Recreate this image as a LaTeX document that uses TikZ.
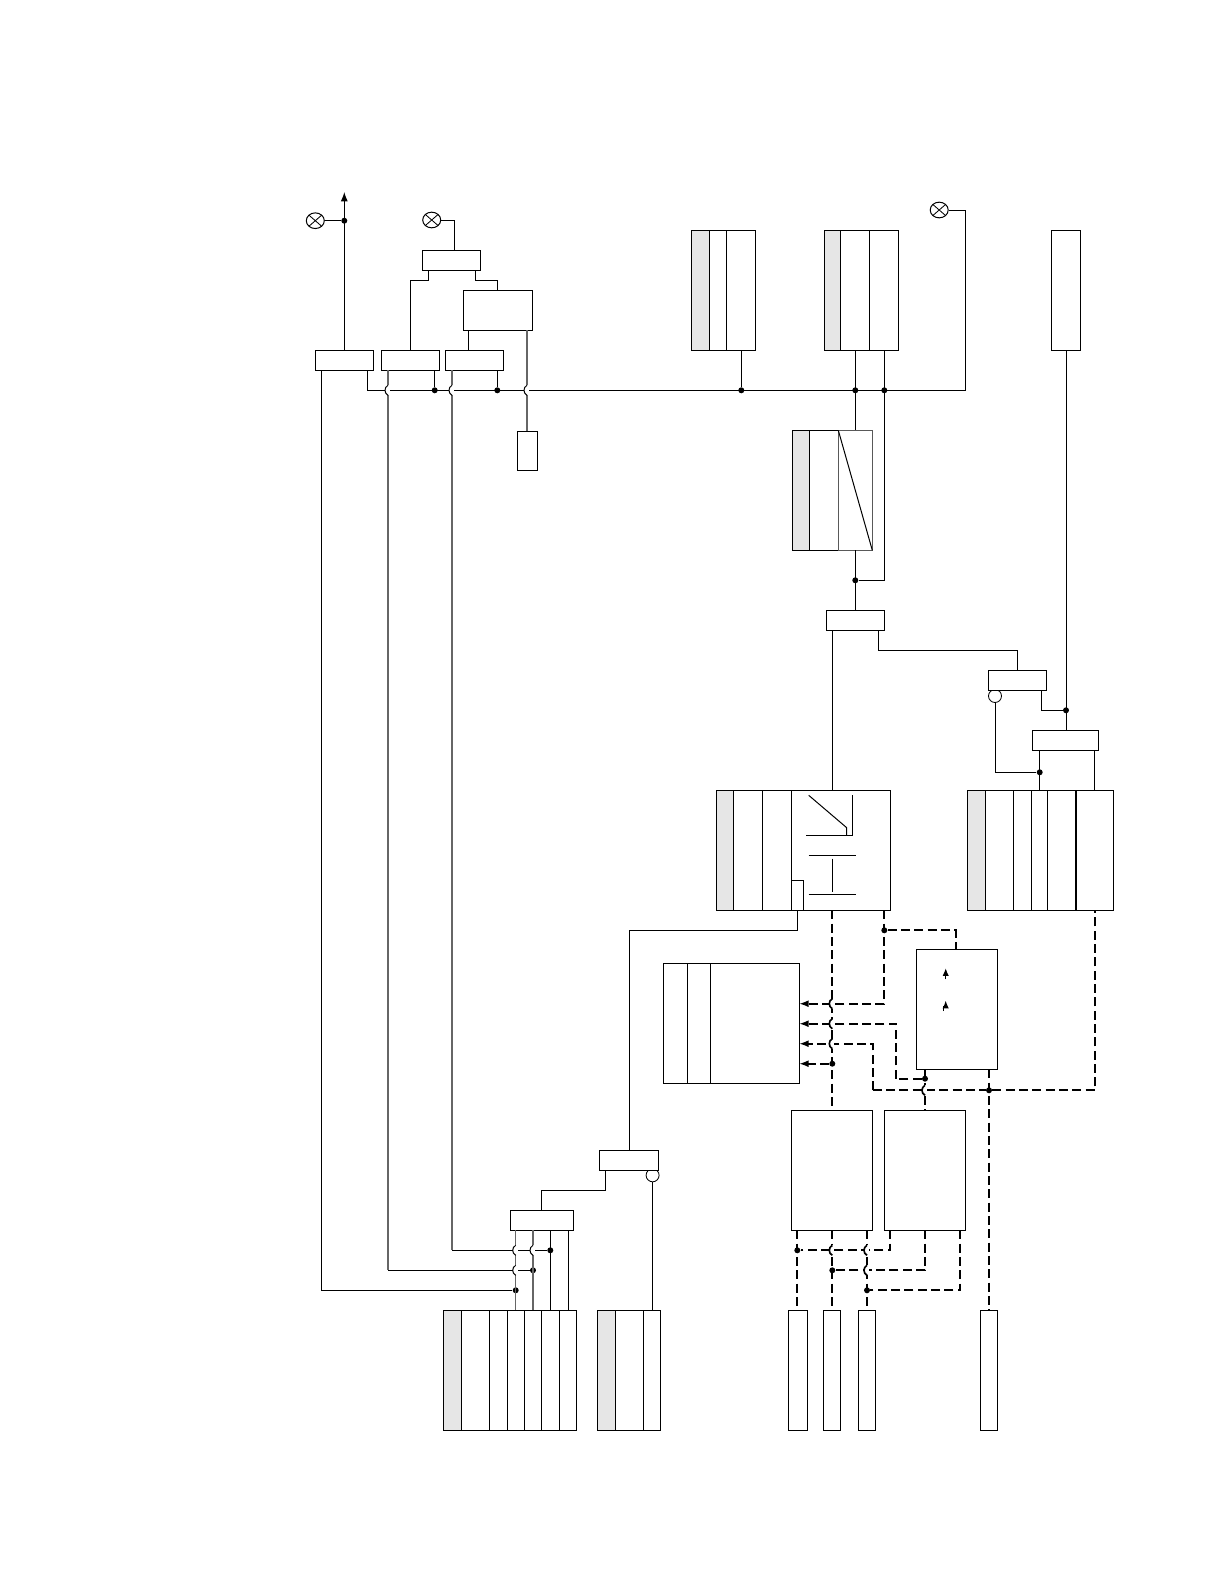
\documentclass[tikz,border=0pt]{standalone}
\usepackage{xcolor}
\usepackage{tikz}
\usetikzlibrary{arrows.meta,shapes.geometric}
\definecolor{stripgray}{HTML}{E6E6E6}
\tikzset{
  blk/.style={draw,rectangle,fill=white,inner sep=0pt,outer sep=0pt,line width=0.6pt},
  strip/.style={blk,fill=stripgray},
  pale/.style={blk,draw=black!65},
  wire/.style={line width=0.6pt},
  palewire/.style={line width=0.85pt,draw=black!60},
  dashwire/.style={line width=1pt,dash pattern=on 5.4pt off 2.6pt},
  tip/.style={-{Latex[length=5.6pt,width=4.2pt]}},
  smalltip/.style={-{Latex[length=4.6pt,width=3.8pt]}},
  dot/.style={circle,fill=black,inner sep=0pt,minimum size=3.6pt},
  ring/.style={circle,draw,fill=white,inner sep=0pt,minimum size=7.8pt,line width=0.5pt},
  lamp/.style={ellipse,draw,inner sep=0pt,minimum width=10.8pt,minimum height=9.4pt,line width=0.6pt,
    path picture={\draw[line width=0.5pt] (path picture bounding box.north west)--(path picture bounding box.south east)
      (path picture bounding box.north east)--(path picture bounding box.south west);}}
}
\newcommand{\blk}[6][]{\node[blk,#1,minimum width={(#5-#3)*0.6pt},minimum height={(#6-#4)*0.6pt}] (#2) at ({(#3+#5)/2},{(#4+#6)/2}) {};}
\newcommand{\hopv}[3][wire]{\fill[white] (#2-3,#3-5) rectangle (#2+2,#3+5);
  \draw[#1,solid] (#2,#3-5) .. controls (#2-4,#3-3) and (#2-4,#3+3) .. (#2,#3+5);}
\begin{document}
\begin{tikzpicture}[x=0.6pt,y=-0.6pt]
  \path[use as bounding box,fill=white] (0,0) rectangle (1224,1584);

  % top left
  \node[lamp] (lamp1) at (315.3,220.7) {};
  \node[lamp] (lamp2) at (431.7,220) {};
  \node[lamp] (lamp3) at (939.2,210) {};
  \blk{a}{315.3}{350.7}{373.3}{370.3}
  \blk{b}{381.7}{350.7}{439.7}{370.3}
  \blk{c}{445.3}{350.7}{503.3}{370.3}
  \blk{d}{422.3}{250.3}{480.3}{270.3}
  \blk{e}{463.3}{290.3}{532.3}{330.3}
  \blk{f}{517.3}{431.3}{537.3}{470.3}

  % top tables
  \blk[strip]{w0}{691.8}{230.3}{709}{350.4}
  \blk{w1}{709}{230.3}{726}{350.4}
  \blk{w2}{726}{230.3}{755.4}{350.4}
  \blk[strip]{x0}{824}{230.3}{840.3}{350.4}
  \blk{x1}{840.3}{230.3}{869.5}{350.4}
  \blk{x2}{869.5}{230.3}{898.5}{350.4}
  \blk{t}{1051.3}{230.3}{1080.6}{350.4}
  \blk[strip]{y0}{792.3}{430.3}{809.3}{550.3}
  \blk{y1}{809.3}{430.3}{838.3}{550.3}
  \blk[pale]{y2}{838.3}{430.3}{872.3}{550.3}
  \draw[wire] (y2.north west) -- (y2.south east);

  % middle
  \blk{m}{826}{610}{884.7}{630.2}
  \node[ring] (ringS) at (995,696) {};
  \blk{s}{988.3}{670.3}{1046.7}{690.3}
  \blk{u}{1032.3}{730.3}{1098.3}{750.3}
  \blk[strip]{l0}{716.3}{790.3}{733.3}{910.3}
  \blk{l1}{733.3}{790.3}{762.3}{910.3}
  \blk{l2}{762.3}{790.3}{791.3}{910.3}
  \blk{l3}{791.3}{790.3}{890.7}{910.3}
  \blk{lsmall}{791.3}{880.3}{803.3}{910.3}
  \blk[strip]{v0}{967.3}{790.3}{985.3}{910.3}
  \blk{v1}{985.3}{790.3}{1013.3}{910.3}
  \blk{v2}{1013.3}{790.3}{1031.3}{910.3}
  \blk{v3}{1031.3}{790.3}{1047.3}{910.3}
  \blk{v4}{1047.3}{790.3}{1076}{910.3}
  \blk[line width=0.9pt]{v5}{1076}{790.3}{1113.3}{910.3}
  \blk{p}{916.3}{949.7}{997.3}{1069.3}
  \blk{q1}{663.5}{963.3}{687.4}{1083.3}
  \blk{q2}{687.4}{963.3}{710.3}{1083.3}
  \blk{q3}{710.3}{963.3}{799.3}{1083.3}
  \blk{n}{791.3}{1110.3}{872.7}{1230.3}
  \blk{r}{884.3}{1110.3}{965.3}{1230.3}

  % bottom
  \node[ring] (ringG) at (652.6,1175.3) {};
  \blk{g}{599.3}{1150.3}{658.7}{1170.3}
  \blk{h}{510.3}{1210.3}{573.7}{1230.3}
  \blk[strip]{j0}{443.3}{1310}{461.3}{1430}
  \blk{j1}{461.3}{1310}{489.3}{1430}
  \blk{j2}{489.3}{1310}{507.3}{1430}
  \blk{j3}{507.3}{1310}{524.3}{1430}
  \blk{j4}{524.3}{1310}{541.3}{1430}
  \blk{j5}{541.3}{1310}{559.3}{1430}
  \blk{j6}{559.3}{1310}{576.3}{1430}
  \blk[strip]{k0}{597.3}{1310}{615.3}{1430}
  \blk{k1}{615.3}{1310}{643.3}{1430}
  \blk{k2}{643.3}{1310}{660.3}{1430}
  \blk{z1}{788.4}{1310}{807.2}{1430}
  \blk{z2}{823}{1310}{840}{1430}
  \blk{z3}{858.4}{1310}{875.6}{1430}
  \blk{z4}{980.6}{1310}{997.8}{1430}

  % junctions
  \node[dot] (dlamp) at (344.3,220.7) {};
  \node[dot] (db) at (434.7,390.3) {};
  \node[dot] (dc) at (497.3,390.3) {};
  \node[dot] (dw) at (741.3,390.3) {};
  \node[dot] (dx1) at (855.3,390.3) {};
  \node[dot] (dx2) at (884.3,390.3) {};
  \node[dot] (dy) at (855.3,580.3) {};
  \node[dot] (dt) at (1066,710.3) {};
  \node[dot] (du) at (1039.7,772.3) {};
  \node[dot] (dh1) at (550.3,1250.3) {};
  \node[dot] (dh2) at (533,1270.3) {};
  \node[dot] (dh3) at (515.7,1290.3) {};
  \node[dot] (dl) at (884.3,930.3) {};
  \node[dot] (dq) at (832.3,1063.7) {};
  \node[dot] (dp1) at (925,1078.7) {};
  \node[dot] (dp2) at (989,1090.3) {};
  \node[dot] (dn1) at (797.3,1250.3) {};
  \node[dot] (dn2) at (832.3,1270.3) {};
  \node[dot] (dn3) at (867,1290.3) {};
  \coordinate (top) at (344.3,192);
  \coordinate (busend) at (965.3,390.3);

  % solid wires
  \draw[wire,tip] (a.north -| top) -- (top);
  \draw[wire] (lamp1.east) -- (dlamp);
  \draw[wire] (lamp2.east) -| (454.3,0 |- d.north);
  \draw[wire] (428.3,0 |- d.south) |- (410.3,280) -- (410.3,0 |- b.north);
  \draw[wire] (475.3,0 |- d.south) |- (497.3,280) -- (497.3,0 |- e.north);
  \draw[wire] (468.3,0 |- e.south) -- (468.3,0 |- c.north);
  \draw[wire] (321.3,0 |- a.south) |- (dh3);
  \draw[palewire] (388,0 |- b.south) -- (388,1270.3);
  \draw[wire] (388,1270.3) -- (dh2);
  \draw[palewire] (452,0 |- c.south) -- (452,1250.3);
  \draw[wire] (452,1250.3) -- (dh1);
  \draw[palewire] (527,0 |- e.south) -- (527,0 |- f.north);
  \draw[wire] (367.7,0 |- a.south) |- (busend) |- (lamp3.east);
  \draw[wire] (db) -- (db |- b.south);
  \draw[wire] (dc) -- (dc |- c.south);
  \draw[wire] (dw) -- (dw |- w2.south);
  \draw[wire] (dx1 |- x1.south) -- (dx1 |- y2.north);
  \draw[wire] (dx2 |- x2.south) |- (dy);
  \draw[wire] (dy |- y2.south) -- (dy |- m.north);
  \draw[wire] (832.3,0 |- m.south) -- (832.3,0 |- l3.north);
  \draw[wire] (878.6,0 |- m.south) |- (1017.3,650.3) -- (1017.3,0 |- s.north);
  \draw[wire] (dt |- t.south) -- (dt |- u.north);
  \draw[wire] (1041.3,0 |- s.south) |- (dt);
  \draw[wire] (ringS.south) |- (du);
  \draw[wire] (du |- u.south) -- (du |- v3.north);
  \draw[wire] (1094.3,0 |- u.south) -- (1094.3,0 |- v5.north);
  \draw[wire] (lsmall.south) |- (629.7,930.3) -- (629.7,0 |- g.north);
  \draw[wire] (605.3,0 |- g.south) |- (541.3,1190.3) -- (541.3,0 |- h.north);
  \draw[wire] (ringG.south) -- (ringG.south |- k2.north);
  \draw[palewire] (515.7,0 |- h.south) -- (515.7,0 |- j3.north);
  \draw[palewire] (533,0 |- h.south) -- (533,0 |- j4.north);
  \draw[wire] (550.3,0 |- h.south) -- (550.3,0 |- j5.north);
  \draw[wire] (568.3,0 |- h.south) -- (568.3,0 |- j6.north);

  % dashed wires
  \draw[dashwire] (832.3,0 |- l3.south) -- (832.3,0 |- n.north);
  \draw[dashwire,tip] (dl |- l3.south) |- (q3.east |- 0,1003.7);
  \draw[dashwire] (dl) -| (955.7,0 |- p.north);
  \draw[dashwire,tip] (896,1078.7) -- (896,1023.7) -- (q3.east |- 0,1023.7);
  \draw[dashwire] (dp1) -- (896,1078.7);
  \draw[dashwire,tip] (872.7,1090.3) -- (872.7,1043.7) -- (q3.east |- 0,1043.7);
  \draw[dashwire] (872.7,1090.3) -- (dp2);
  \draw[dashwire,tip] (dq) -- (q3.east |- dq);
  \draw[dashwire] (dp2) -| (1095,0 |- v5.south);
  \draw[dashwire] (dp1 |- p.south) -- (dp1 |- r.north);
  \draw[dashwire] (dp2 |- p.south) -- (dp2 |- z4.north);
  \draw[dashwire] (dn1 |- n.south) -- (dn1 |- z1.north);
  \draw[dashwire] (dn2 |- n.south) -- (dn2 |- z2.north);
  \draw[dashwire] (dn3 |- n.south) -- (dn3 |- z3.north);
  \draw[dashwire] (890,0 |- r.south) |- (dn1);
  \draw[dashwire] (925,0 |- r.south) |- (dn2);
  \draw[dashwire] (960,0 |- r.south) |- (dn3);

  % crossings
  \hopv{388}{390.3}
  \hopv{452}{390.3}
  \hopv{527}{390.3}
  \hopv{515.7}{1250.3}
  \hopv{533}{1250.3}
  \hopv{515.7}{1270.3}
  \hopv[dashwire]{832.3}{1003.7}
  \hopv[dashwire]{832.3}{1023.7}
  \hopv[dashwire]{832.3}{1043.7}
  \hopv[dashwire]{925}{1090.3}
  \hopv[dashwire]{832.3}{1250.3}
  \hopv[dashwire]{867}{1250.3}
  \hopv[dashwire]{867}{1270.3}

  % symbols
  \draw[wire] (808.7,795.3) -- (846.7,827.7) -- (846.7,835.3);
  \draw[wire] (806,835.3) -- (852.7,835.3) -- (852.7,795.3);
  \draw[wire] (808.7,855.3) -- (855.7,855.3);
  \draw[wire] (832.3,858.7) -- (832.3,892);
  \draw[wire] (808.7,894.3) -- (855.7,894.3);
  \draw[wire,smalltip] (945.7,979.3) -- (945.7,968.3);
  \draw[wire,smalltip] (943.3,1011) -- (943.3,1006) -- (945.7,1006) -- (945.7,1000.7);
\end{tikzpicture}
\end{document}
